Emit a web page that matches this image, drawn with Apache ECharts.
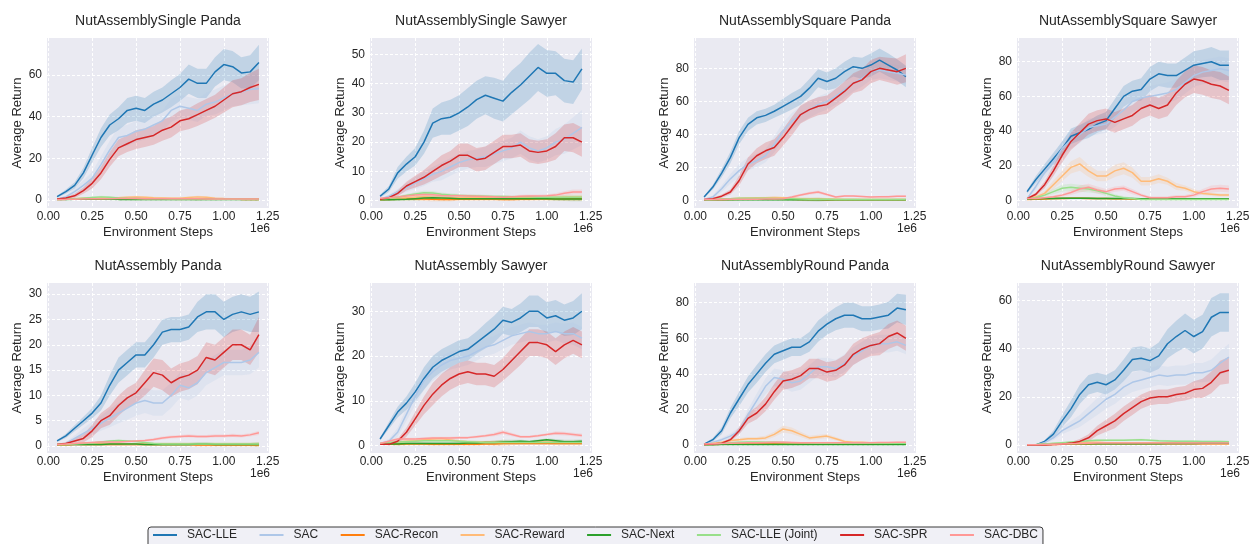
<!DOCTYPE html>
<html><head><meta charset="utf-8">
<script src="https://cdn.jsdelivr.net/npm/echarts@6/dist/echarts.min.js"></script>
<style>html,body{margin:0;padding:0;background:#fff}#c{width:1252px;height:544px}</style>
</head><body><div id="c"></div>
<script>
const steps = [0.05,0.10,0.15,0.20,0.25,0.30,0.35,0.40,0.45,0.50,0.55,0.60,0.65,0.70,0.75,0.80,0.85,0.90,0.95,1.00,1.05,1.10,1.15,1.20];
const methods = ['SAC-LLE','SAC','SAC-Recon','SAC-Reward','SAC-Next','SAC-LLE (Joint)','SAC-SPR','SAC-DBC'];
const colors = ['#1f77b4','#aec7e8','#ff7f0e','#ffbb78','#2ca02c','#98df8a','#d62728','#ff9896'];
const titles = ['NutAssemblySingle Panda','NutAssemblySingle Sawyer','NutAssemblySquare Panda','NutAssemblySquare Sawyer','NutAssembly Panda','NutAssembly Sawyer','NutAssemblyRound Panda','NutAssemblyRound Sawyer'];
const xTicks = [0,0.25,0.5,0.75,1.0,1.25];
const yTicks1 = [0,20,40,60];
const yTicks2 = [0,10,20,30,40,50];
const yTicks3 = [0,20,40,60,80];
const yTicks4 = [0,20,40,60,80];
const yTicks5 = [0,5,10,15,20,25,30];
const yTicks6 = [0,10,20,30];
const yTicks7 = [0,20,40,60,80];
const yTicks8 = [0,20,40,60];

// Panel 1: NutAssemblySingle Panda
const p1_lle = [1.6,4,7,13,21.6,30,36,39,43,44,43,46,48,51,54,58,56,56,61.5,65,64,61,61.5,66];
const p1_lle_sd = [0.5,1,1.5,2.5,3.5,4.5,5,5.5,6,6,6,6,6,6.5,6.5,7,7,7,7,7.5,7.5,7.5,8,8.5];
const p1_sac = [0.5,1.5,4,7,10.5,17,24,30,31,33,34,36,38,43,45,44,43,46,47,49,51,52,53,53.5];
const p1_sac_sd = [0.3,0.7,1.5,2.5,3,4,4.5,5,5,5,5,5,5,5.5,5.5,5.5,5.5,5.5,6,6,6,6.5,7,7];
const p1_recon = [0.2,0.3,0.4,0.5,0.6,0.5,0.5,0.6,0.6,0.7,0.6,0.5,0.5,0.5,0.4,0.5,0.5,0.6,0.5,0.4,0.4,0.3,0.3,0.3];
const p1_reward = [0.3,0.4,0.6,0.8,0.9,1.0,1.0,1.1,1.3,1.5,1.3,1.1,1.0,0.9,0.9,1.2,1.5,1.3,0.9,0.7,0.6,0.5,0.5,0.5];
const p1_next = [0.2,0.2,0.3,0.4,0.5,0.5,0.4,0.3,0.3,0.3,0.3,0.3,0.3,0.3,0.3,0.3,0.3,0.3,0.3,0.3,0.3,0.3,0.3,0.3];
const p1_joint = [0.3,0.4,0.6,0.9,1.2,1.5,1.3,1.0,0.8,0.7,0.6,0.6,0.6,0.5,0.5,0.5,0.5,0.5,0.4,0.4,0.4,0.4,0.4,0.4];
const p1_spr = [0.5,1,2,4.5,8,13,19.5,25,27,29,30,31,33.5,35,38,39,41,43,45,48,51,52,54,55.5];
const p1_spr_sd = [0.3,0.5,1,1.5,2.5,3,3.5,4,4,4.5,4.5,4.5,5,5,5,5,5.5,5.5,5.5,6,6.5,6.5,7,7.5];
const p1_dbc = [0.3,0.3,0.4,0.5,0.6,0.6,0.6,0.7,0.7,0.7,0.6,0.6,0.6,0.6,0.6,0.6,0.6,0.5,0.5,0.5,0.5,0.5,0.5,0.5];
const p1_low_sd = [0.1,0.2,0.3,0.4,0.5,0.5,0.5,0.5,0.5,0.6,0.5,0.5,0.5,0.5,0.5,0.5,0.6,0.5,0.5,0.4,0.4,0.4,0.4,0.4];

// Panel 2: NutAssemblySingle Sawyer
const p2_lle = [1.5,4,9.5,12.5,15,20,26.5,28,28.5,30,32,34.5,36,35,34,37,39.5,42.5,45.5,43.5,43.5,41,40.5,45];
const p2_lle_sd = [0.5,1,2,2.5,3,4,5,5.5,6,6,6.5,6.5,6.5,7,7,7.5,7.5,8,8,8,7.5,7.5,7.5,7];
const p2_sac = [0.5,1.5,3,4.5,6,7.5,9,10,11.5,13,14,14.5,15,16,17,18,20,18,17,18,20,21,23,25];
const p2_sac_sd = [0.3,0.5,1,1.5,2,2.5,2.5,3,3,3,3,3,3.5,3.5,3.5,3.5,4,4,4,4,4.5,5,5.5,6];
const p2_recon = [0.3,0.4,0.5,0.6,0.7,0.6,0.5,0.4,0.4,0.5,0.5,0.5,0.5,0.5,0.4,0.4,0.5,0.5,0.6,0.6,0.6,0.6,0.7,0.7];
const p2_reward = [0.5,0.6,0.8,1.0,1.2,1.3,1.2,1.1,1.0,1.0,1.0,1.0,1.0,1.0,1.0,1.0,1.0,1.0,1.0,1.0,1.1,1.2,1.2,1.2];
const p2_next = [0.3,0.3,0.4,0.5,0.7,0.9,1.0,0.9,0.8,0.7,0.7,0.7,0.7,0.7,0.7,0.7,0.7,0.7,0.7,0.7,0.6,0.6,0.6,0.6];
const p2_joint = [0.5,0.8,1.2,1.8,2.3,2.7,2.6,2.2,1.9,1.8,1.7,1.6,1.5,1.4,1.4,1.3,1.3,1.3,1.2,1.2,1.2,1.2,1.2,1.2];
const p2_spr = [0.5,1,2.5,5,6.5,8,10,12,13.5,15.5,15.5,14,14.5,16.5,18.5,18.5,19,17,16.5,17,18.5,21.5,21.5,20];
const p2_spr_sd = [0.3,0.5,1,1.5,2,2.5,3,3.5,3.5,4,4,4,4,4,4,4,4,4,4,4,4.5,4.5,5,5];
const p2_dbc = [0.8,1.0,1.3,1.6,1.9,2.1,2.0,1.8,1.7,1.7,1.6,1.5,1.4,1.3,1.2,1.3,1.5,1.6,1.6,1.7,1.9,2.5,3.0,3.0];
const p2_low_sd = [0.2,0.3,0.4,0.5,0.6,0.7,0.7,0.6,0.6,0.5,0.5,0.5,0.5,0.5,0.5,0.5,0.5,0.5,0.5,0.5,0.6,0.7,0.8,0.8];

// Panel 3: NutAssemblySquare Panda
const p3_lle = [2,8,16.5,26,38,46,50,51.5,54,57,60,63,68,74,72,74,78,81,80,82,85,82,79,75];
const p3_lle_sd = [0.5,1.5,2.5,3.5,4,4,4,4,4,4.5,5,5,5.5,5.5,5.5,6,6,6,6.5,7,7,7,6.5,6.5];
const p3_sac = [0.5,2,7,13,18,22,24,27,34,42,48,52,55,58,60,63,67,71,74,78,79,78,77,76];
const p3_sac_sd = [0.3,1,2,3,4,4,4,4,5,5,5,5,5,5,5,5,5,5,5,5,5,5,5,5.5];
const p3_recon = [0.3,0.3,0.4,0.5,0.6,0.6,0.7,0.8,0.8,0.7,0.6,0.5,0.5,0.5,0.4,0.4,0.4,0.4,0.4,0.4,0.4,0.4,0.4,0.4];
const p3_reward = [0.3,0.5,0.8,1.0,1.2,1.4,1.5,1.6,1.7,1.6,1.3,1.0,0.8,0.7,0.6,0.6,0.5,0.5,0.5,0.5,0.5,0.5,0.5,0.5];
const p3_next = [0.3,0.3,0.3,0.3,0.4,0.4,0.4,0.3,0.3,0.3,0.3,0.3,0.3,0.3,0.3,0.3,0.3,0.3,0.3,0.3,0.3,0.3,0.3,0.3];
const p3_joint = [0.3,0.5,0.8,1.0,1.2,1.3,1.3,1.2,1.1,1.0,0.9,0.8,0.7,0.6,0.6,0.5,0.5,0.5,0.5,0.5,0.5,0.5,0.5,0.5];
const p3_spr = [0.5,1,2.5,5,12,22,27,30,32,38,45,52,55,57,58,62,66,71,73,78,80,79,78,80];
const p3_spr_sd = [0.3,0.5,1,1.5,3,4,4.5,5,5,5,5.5,5.5,5.5,5.5,5.5,5.5,6,6,6.5,7,7,7.5,8,8.5];
const p3_dbc = [0.5,0.5,0.5,0.6,0.6,0.7,0.7,0.8,0.8,1.0,2.0,3.2,4.3,5.0,3.5,2.0,2.6,2.6,2.3,2.0,2.1,2.2,2.4,2.5];
const p3_low_sd = [0.2,0.3,0.3,0.4,0.5,0.5,0.5,0.6,0.6,0.6,0.7,0.8,0.9,1.0,0.8,0.6,0.6,0.6,0.5,0.5,0.5,0.5,0.6,0.6];

// Panel 4: NutAssemblySquare Sawyer
const p4_lle = [5,12,18,24,30,37,39,41,44,46,53,60,63,64,70,73,72,72,75,78,79,80,78,78];
const p4_lle_sd = [1,2,3,3.5,4,4.5,4.5,5,5,5,5.5,6,6,6.5,7,7,7,7,7.5,8,8,8.5,8.5,8.5];
const p4_sac = [1,8,16,22,30,35,38,42,43,44,48,52,57,59,60,61,62,64,68,72,74,75,76,75];
const p4_sac_sd = [0.5,2,3,4,4.5,5,5,5,5,5,5.5,5.5,6,6,6,6,6,6,6.5,6.5,7,7,7,7];
const p4_recon = [0.5,0.6,0.8,1.0,1.1,1.2,1.2,1.1,1.0,1.0,0.9,0.9,0.8,0.8,0.7,0.7,0.7,0.6,0.6,0.6,0.6,0.6,0.6,0.6];
const p4_reward = [1,2,4,9,14,19,21,17,14,14,17,18.5,16,11,11,12.5,11,8,7,5,4,3.5,3,3];
const p4_reward_sd = [0.5,1,1.5,2.5,3,3.5,4,3.5,3,3,3.5,3.5,3,2.5,2.5,2.5,2,2,1.5,1.5,1,1,1,1];
const p4_next = [0.8,0.9,1.0,1.1,1.2,1.2,1.2,1.2,1.1,1.1,1.0,1.0,1.0,0.9,0.9,0.9,0.9,0.9,0.9,0.9,0.9,0.9,0.9,0.9];
const p4_joint = [1,1.5,3,5,7,7.5,7,6.5,5.5,4,2.5,1.5,1,0.5,0.4,0.4,0.4,0.4,0.4,0.4,0.4,0.4,0.4,0.4];
const p4_joint_sd = [0.3,0.5,1,1.5,2,2,2,2,1.5,1.5,1,1,0.5,0.3,0.3,0.3,0.3,0.3,0.3,0.3,0.3,0.3,0.3,0.3];
const p4_spr = [1,3.5,9,17,26,34,39,44,46,47,45,47,49,53,55,53,55,62,67,70,69,67,66,63.5];
const p4_spr_sd = [0.5,1,2,3,4,5,5.5,6,6,6,6,6,6,6,6,6,6.5,7,7.5,8,8,8,8,8];
const p4_dbc = [1,1,1.5,2,3,4.5,6.5,7.5,6,5,6.5,7,5,3,1.5,1.5,1.5,2,2,3,5,6.5,7,6.5];
const p4_dbc_sd = [0.3,0.4,0.5,0.8,1,1.5,2,2,2,1.5,1.5,1.5,1.5,1,0.8,0.8,0.8,1,1,1.2,1.5,2,2,2];
const p4_low_sd = [0.2,0.3,0.4,0.5,0.5,0.5,0.5,0.5,0.5,0.5,0.5,0.4,0.4,0.4,0.4,0.4,0.4,0.4,0.4,0.4,0.4,0.4,0.4,0.4];

// Panel 5: NutAssembly Panda
const p5_lle = [1,2,3.5,5,6.5,8.5,12,15,16.5,18,18,20,22.5,23,23,23.5,25.5,26.5,26.5,25,26,26.5,26,26.5];
const p5_lle_sd = [0.2,0.4,0.6,0.8,1,1.5,2,2.5,2.5,2.5,2.5,2.5,2.5,2.5,2.5,2.5,3,3.5,3.5,3.5,3.5,3.5,3.5,4];
const p5_sac = [0.2,0.5,1.5,2.5,3.5,4.5,5.5,6.5,7.5,8.5,9,8.5,8.5,10,12,11.5,12.5,14.5,15.5,16.5,16.5,16.5,17,18.5];
const p5_sac_sd = [0.1,0.3,0.6,1,1.3,1.5,1.8,2,2.3,2.5,2.5,2.5,2.5,2.5,2.5,2.5,2.5,2.5,2.5,2.5,2.5,2.5,2.8,3];
const p5_recon = [0.2,0.2,0.3,0.3,0.3,0.3,0.3,0.3,0.3,0.3,0.3,0.3,0.3,0.3,0.3,0.3,0.2,0.2,0.2,0.2,0.2,0.2,0.2,0.2];
const p5_reward = [0.3,0.3,0.4,0.5,0.5,0.5,0.5,0.5,0.4,0.4,0.4,0.4,0.4,0.4,0.4,0.4,0.4,0.4,0.4,0.4,0.4,0.4,0.4,0.4];
const p5_next = [0.3,0.3,0.3,0.3,0.3,0.3,0.4,0.4,0.4,0.4,0.3,0.3,0.3,0.3,0.3,0.3,0.4,0.4,0.3,0.3,0.3,0.3,0.3,0.3];
const p5_joint = [0.3,0.3,0.4,0.5,0.6,0.8,1.0,1.1,1.0,0.9,0.7,0.5,0.4,0.4,0.4,0.4,0.4,0.4,0.4,0.4,0.4,0.4,0.4,0.4];
const p5_spr = [0.3,0.5,1,1.5,3,5,6,8,9.5,10.5,12.5,14.5,14,12.5,13.5,14,15,17.5,17,18.5,20,20,19,22];
const p5_spr_sd = [0.1,0.3,0.5,0.8,1.2,1.5,1.8,2,2,2,2.5,2.8,3,2.8,2.8,2.8,2.8,3,3,3,3,3,3,3.5];
const p5_dbc = [0.3,0.4,0.5,0.6,0.7,0.8,0.8,0.8,0.9,1.0,1.1,1.3,1.6,1.8,1.9,2.0,1.9,1.9,2.0,2.0,2.1,2.0,2.2,2.6];
const p5_low_sd = [0.1,0.1,0.1,0.2,0.2,0.2,0.2,0.2,0.2,0.2,0.2,0.3,0.3,0.3,0.3,0.3,0.3,0.3,0.3,0.3,0.3,0.3,0.3,0.4];

// Panel 6: NutAssembly Sawyer
const p6_lle = [1.5,4.5,7.5,9.5,12,15,17.5,19,20,21,21.5,23,24.5,26,28,27.5,28.5,30,30,28.5,29,28,28.5,30];
const p6_lle_sd = [0.3,0.8,1.2,1.5,2,2.5,2.5,2.5,2.5,2.5,2.5,2.5,2.8,3,3,3,3.2,3.5,3.5,3.5,3.5,3.5,3.8,4];
const p6_sac = [0.5,1,3,7,11,14.5,16.5,18,19,19.5,20,21,22,22.5,23.5,24.5,25,25.5,25,25,25.5,25,25,24];
const p6_sac_sd = [0.2,0.5,1,1.5,2,2,2,2,2,2,2,2,2,2,2,2,2,2,2,2,2,2.2,2.5,2.5];
const p6_recon = [0.3,0.3,0.3,0.4,0.4,0.4,0.3,0.3,0.3,0.3,0.3,0.3,0.4,0.4,0.5,0.5,0.5,0.5,0.5,0.5,0.5,0.5,0.5,0.5];
const p6_reward = [0.5,0.6,0.8,1.0,1.1,1.3,1.5,1.6,1.3,1.0,0.9,0.8,0.8,0.8,0.8,0.8,0.8,0.8,0.8,0.8,0.8,0.8,0.8,0.8];
const p6_next = [0.4,0.4,0.4,0.5,0.5,0.5,0.5,0.5,0.5,0.5,0.6,0.6,0.7,0.7,0.8,0.9,1.0,0.9,1.1,1.3,1.1,0.9,0.9,1.0];
const p6_joint = [0.5,0.7,0.8,0.9,1.0,1.1,1.1,1.1,1.1,1.0,0.9,0.8,0.7,0.7,0.7,0.7,0.7,0.7,0.7,0.7,0.7,0.7,0.7,0.7];
const p6_spr = [0.3,0.3,1,3,6,9,11.5,13.5,15,16,16.5,16,16,15.5,17,19,21,23,23,22.5,21,22.5,23.5,22.5];
const p6_spr_sd = [0.1,0.2,0.5,1,1.5,2,2.5,2.5,2.5,2.5,2.5,2.5,2.5,2.5,2.5,2.8,3,3,3,3,3,3,3,3];
const p6_dbc = [0.5,1.0,1.5,1.5,1.5,1.6,1.7,1.7,1.7,1.8,1.8,2.0,2.2,2.5,3.0,2.5,2.0,2.0,2.2,2.5,2.8,2.7,2.5,2.3];
const p6_low_sd = [0.1,0.2,0.3,0.3,0.3,0.3,0.3,0.3,0.3,0.3,0.3,0.3,0.3,0.4,0.5,0.4,0.3,0.3,0.3,0.3,0.4,0.4,0.4,0.4];

// Panel 7: NutAssemblyRound Panda
const p7_lle = [0.5,3,8,18,26,34,40,46,51,53,55,55,58,64,68,71,73,73,71,71,72,73,77,76];
const p7_lle_sd = [0.3,1,2,3,4,4.5,5,5,5,5,5,5,5.5,6,6,6.5,7,7,7,7,7,7.5,8,8.5];
const p7_sac = [0.3,1.5,3,5,8,17,25,33,38,37,35,36,40,44,44,43,46,50,53,56,57,57,58,56];
const p7_sac_sd = [0.2,0.5,1,1.5,2,3,4,4.5,5,5,5,5,5,5,5,5,5,5,5,5,5,5,5,5];
const p7_recon = [0.3,0.3,0.4,0.4,0.5,0.5,0.6,0.6,0.6,0.6,0.6,0.5,0.5,0.5,0.5,0.5,0.4,0.4,0.4,0.4,0.4,0.4,0.4,0.4];
const p7_reward = [0.3,1,1.5,2.5,3,3.5,3.5,4,6,9,8,6,4,4.5,5,3.5,2,1.5,1.5,1.2,1,1,1,1];
const p7_reward_sd = [0.2,0.4,0.6,0.8,1,1,1,1.2,1.5,2,1.8,1.5,1.2,1.2,1.2,1,0.8,0.6,0.5,0.5,0.5,0.5,0.5,0.5];
const p7_next = [0.2,0.2,0.3,0.3,0.3,0.3,0.3,0.3,0.3,0.3,0.3,0.3,0.3,0.3,0.3,0.3,0.3,0.3,0.3,0.3,0.3,0.3,0.3,0.3];
const p7_joint = [0.3,0.6,1.0,1.3,1.6,1.7,1.7,1.6,1.5,1.4,1.3,1.2,1.1,1.0,1.0,1.0,1.0,1.0,1.0,1.0,1.0,1.0,1.0,1.0];
const p7_spr = [0.3,0.5,1,3,8,15,18,23,30,36,37,39,43,43,41,42,45,51,54,56,57,61,63,60];
const p7_spr_sd = [0.1,0.3,0.5,1,2,3,3.5,4,4.5,5,5,5,5.5,5.5,5.5,5.5,5.5,6,6,6,6.5,7,7,7];
const p7_dbc = [0.5,0.7,0.9,1.0,1.1,1.2,1.3,1.4,1.5,1.5,1.4,1.3,1.2,1.2,1.2,1.2,1.2,1.2,1.3,1.3,1.4,1.4,1.5,1.5];
const p7_low_sd = [0.1,0.2,0.2,0.3,0.3,0.4,0.4,0.4,0.4,0.4,0.4,0.4,0.4,0.4,0.4,0.4,0.4,0.4,0.4,0.4,0.4,0.4,0.4,0.4];

// Panel 8: NutAssemblyRound Sawyer
const p8_lle = [0,0,1.5,4.5,10,15,21,25,26,25,27,31,35.5,36,35,37,42,45,47.5,45,47,53,55,55];
const p8_lle_sd = [0,0.1,0.5,1.5,2.5,3.5,4,4,4,4,4,4.5,5,5,5,5.5,6,6.5,7,7,7,8,8,8];
const p8_sac = [0,0,1,3,6,8,10,13,16,19,21,24,26,27,28,29,28.5,29,29,30,30,31,34,36.5];
const p8_sac_sd = [0,0.1,0.5,1,1.5,2,2.5,3,3.5,4,4,4,4,4,4,4,4,4,4,4,4,4.5,5,5.5];
const p8_recon = [0.1,0.1,0.2,0.2,0.3,0.3,0.4,0.4,0.5,0.5,0.5,0.5,0.5,0.5,0.5,0.5,0.5,0.5,0.5,0.5,0.5,0.5,0.5,0.5];
const p8_reward = [0.1,0.1,0.2,0.3,0.5,0.8,1.0,1.2,1.2,1.0,0.9,0.8,0.8,0.8,0.9,1.0,1.0,0.9,0.8,0.7,0.7,0.6,0.6,0.6];
const p8_next = [0.1,0.1,0.2,0.3,0.4,0.5,0.5,0.5,0.5,0.5,0.5,0.5,0.5,0.5,0.5,0.5,0.6,0.6,0.6,0.6,0.7,0.7,0.7,0.7];
const p8_joint = [0.1,0.2,0.4,0.7,1.0,1.3,1.5,1.8,2.0,2.0,2.0,2.0,2.1,2.2,2.0,1.8,1.7,1.6,1.6,1.6,1.5,1.5,1.5,1.4];
const p8_spr = [0,0,0,0.2,0.3,0.8,1.5,3,6,8,10,13,15.5,18,19.5,20,20,21,21.5,23,23.5,26,30,31];
const p8_spr_sd = [0,0,0.1,0.2,0.3,0.5,1,1.5,2,2.5,3,3,3,3,3,3,3,3,3,3.5,4,4.5,5,5.5];
const p8_dbc = [0.1,0.1,0.2,0.3,0.4,0.5,0.6,0.7,0.8,0.8,0.8,0.8,0.8,0.8,0.8,0.8,0.8,0.8,0.8,0.8,0.8,0.8,0.8,0.8];
const p8_low_sd = [0,0.1,0.1,0.2,0.2,0.3,0.3,0.4,0.4,0.4,0.4,0.4,0.4,0.4,0.4,0.4,0.4,0.4,0.4,0.4,0.4,0.4,0.4,0.4];

const panelMeans = [
  [p1_lle,p1_sac,p1_recon,p1_reward,p1_next,p1_joint,p1_spr,p1_dbc],
  [p2_lle,p2_sac,p2_recon,p2_reward,p2_next,p2_joint,p2_spr,p2_dbc],
  [p3_lle,p3_sac,p3_recon,p3_reward,p3_next,p3_joint,p3_spr,p3_dbc],
  [p4_lle,p4_sac,p4_recon,p4_reward,p4_next,p4_joint,p4_spr,p4_dbc],
  [p5_lle,p5_sac,p5_recon,p5_reward,p5_next,p5_joint,p5_spr,p5_dbc],
  [p6_lle,p6_sac,p6_recon,p6_reward,p6_next,p6_joint,p6_spr,p6_dbc],
  [p7_lle,p7_sac,p7_recon,p7_reward,p7_next,p7_joint,p7_spr,p7_dbc],
  [p8_lle,p8_sac,p8_recon,p8_reward,p8_next,p8_joint,p8_spr,p8_dbc]
];
const panelSds = [
  [p1_lle_sd,p1_sac_sd,p1_low_sd,p1_low_sd,p1_low_sd,p1_low_sd,p1_spr_sd,p1_low_sd],
  [p2_lle_sd,p2_sac_sd,p2_low_sd,p2_low_sd,p2_low_sd,p2_low_sd,p2_spr_sd,p2_low_sd],
  [p3_lle_sd,p3_sac_sd,p3_low_sd,p3_low_sd,p3_low_sd,p3_low_sd,p3_spr_sd,p3_low_sd],
  [p4_lle_sd,p4_sac_sd,p4_low_sd,p4_reward_sd,p4_low_sd,p4_joint_sd,p4_spr_sd,p4_dbc_sd],
  [p5_lle_sd,p5_sac_sd,p5_low_sd,p5_low_sd,p5_low_sd,p5_low_sd,p5_spr_sd,p5_low_sd],
  [p6_lle_sd,p6_sac_sd,p6_low_sd,p6_low_sd,p6_low_sd,p6_low_sd,p6_spr_sd,p6_low_sd],
  [p7_lle_sd,p7_sac_sd,p7_low_sd,p7_reward_sd,p7_low_sd,p7_low_sd,p7_spr_sd,p7_low_sd],
  [p8_lle_sd,p8_sac_sd,p8_low_sd,p8_low_sd,p8_low_sd,p8_low_sd,p8_spr_sd,p8_low_sd]
];
const yTickSets = [yTicks1,yTicks2,yTicks3,yTicks4,yTicks5,yTicks6,yTicks7,yTicks8];
const yMins = [-3.84,-2.5,-4.67,-4.44,-1.38,-1.63,-4.5,-3.3];
const yMaxs = [77.76,55.56,98.4,93.7,32.2,36.3,91.1,67.2];

// layout
const FONT = '"Liberation Sans", Arial, sans-serif';
const TXT = '#262626';
const gridLefts = [47,370,694,1017];
const gridTops = [38,283];
const GW = 222, GH = 170;

function hexToRgba(hex, a) {
  const n = parseInt(hex.slice(1), 16);
  return 'rgba(' + ((n >> 16) & 255) + ',' + ((n >> 8) & 255) + ',' + (n & 255) + ',' + a + ')';
}

function bandSeries(p, m) {
  const mean = panelMeans[p][m], sd = panelSds[p][m];
  const fill = hexToRgba(colors[m], 0.2);
  return {
    type: 'custom', xAxisIndex: p, yAxisIndex: p, silent: true, z: 2,
    data: steps.map((s, k) => [s, mean[k] - sd[k], mean[k] + sd[k]]),
    encode: {x: 0, y: [1, 2]},
    renderItem: function (params, api) {
      if (params.dataIndex !== 0) return null;
      const up = [], dn = [];
      for (let k = 0; k < steps.length; k++) {
        up.push(api.coord([steps[k], mean[k] + sd[k]]));
        dn.push(api.coord([steps[k], mean[k] - sd[k]]));
      }
      return {type: 'polygon', shape: {points: up.concat(dn.reverse())}, style: {fill: fill, stroke: null}};
    }
  };
}

const grids = [], xAxes = [], yAxes = [], series = [], graphics = [];
for (let p = 0; p < 8; p++) {
  const left = gridLefts[p % 4], top = gridTops[Math.floor(p / 4)];
  grids.push({left: left, top: top, width: GW, height: GH, show: true, backgroundColor: '#EAEAF2', borderWidth: 0, containLabel: false, outerBoundsMode: 'none'});
  xAxes.push({
    type: 'value', gridIndex: p, min: -0.0075, max: 1.2575,
    axisLine: {show: false}, axisTick: {show: false, customValues: xTicks},
    axisLabel: {customValues: xTicks, formatter: v => v.toFixed(2), color: TXT, fontSize: 12, fontFamily: FONT, margin: 3},
    splitLine: {show: true, lineStyle: {color: '#ffffff', type: [3, 2], width: 1}},
    name: 'Environment Steps', nameLocation: 'middle', nameGap: 18, nameMoveOverlap: false,
    nameTextStyle: {fontSize: 13, color: TXT, fontFamily: FONT}
  });
  yAxes.push({
    type: 'value', gridIndex: p, min: yMins[p], max: yMaxs[p],
    axisLine: {show: false}, axisTick: {show: false, customValues: yTickSets[p]},
    axisLabel: {customValues: yTickSets[p], color: TXT, fontSize: 12, fontFamily: FONT, margin: 5},
    splitLine: {show: true, lineStyle: {color: '#ffffff', type: [3, 2], width: 1}},
    name: 'Average Return', nameLocation: 'middle', nameGap: 23, nameMoveOverlap: false,
    nameTextStyle: {fontSize: 13, color: TXT, fontFamily: FONT}
  });
  graphics.push({type: 'text', x: left + GW / 2, y: top - 17, silent: true,
    style: {text: titles[p], fill: TXT, font: '14px ' + FONT, textAlign: 'center', textVerticalAlign: 'middle', align: 'center', verticalAlign: 'middle'}});
  graphics.push({type: 'text', x: left + GW - 9, y: top + GH + 21, silent: true,
    style: {text: '1e6', fill: TXT, font: '12px ' + FONT, textAlign: 'center', textVerticalAlign: 'middle', align: 'center', verticalAlign: 'middle'}});
  for (let m = 0; m < 8; m++) {
    const mean = panelMeans[p][m];
    series.push(bandSeries(p, m));
    series.push({type: 'line', name: methods[m], xAxisIndex: p, yAxisIndex: p,
      data: mean.map((v, k) => [steps[k], v]), symbol: 'none', silent: true,
      lineStyle: {color: colors[m], width: 1.5}, itemStyle: {color: colors[m]}, z: 3, animation: false});
  }
}

const chart = echarts.init(document.getElementById('c'), null, {renderer: 'canvas'});
chart.setOption({
  animation: false,
  backgroundColor: '#ffffff',
  grid: grids, xAxis: xAxes, yAxis: yAxes, series: series, graphic: graphics,
  tooltip: {show: false},
  legend: {
    data: methods.map(n => ({name: n, icon: 'rect'})),
    left: 148, top: 527, orient: 'horizontal',
    itemWidth: 24, itemHeight: 2, itemGap: 22.5,
    padding: [2, 5, 12, 5],
    backgroundColor: 'rgba(234,234,242,0.7)', borderColor: '#3a3a3a', borderWidth: 1, borderRadius: 3,
    textStyle: {fontSize: 12, color: TXT, fontFamily: FONT, padding: [0, 0, 0, 5]},
    selectedMode: false
  }
});
</script></body></html>
